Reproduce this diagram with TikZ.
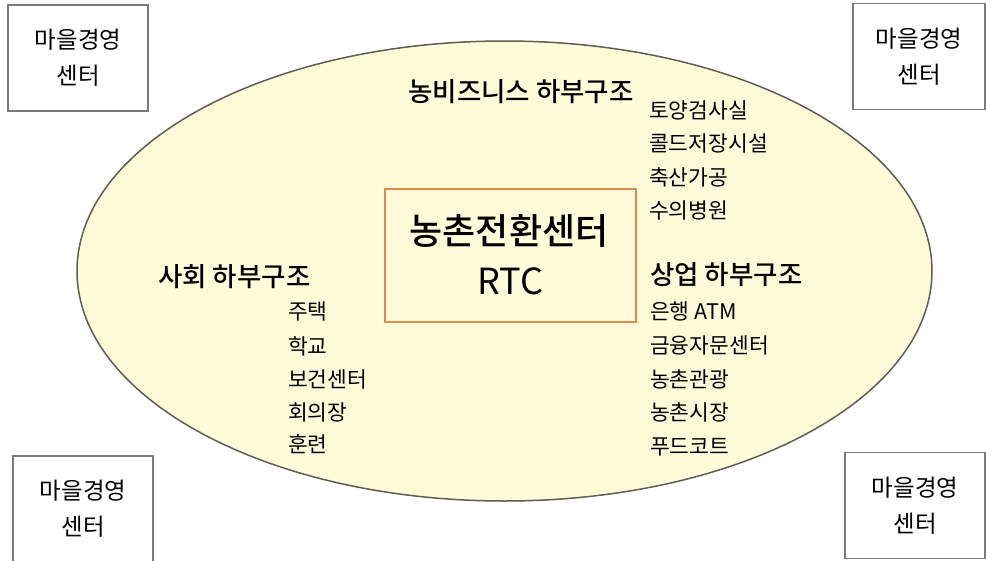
\documentclass[tikz,border=0pt]{standalone}
\usepackage{fontspec}
\usetikzlibrary{shapes.geometric}
\setmainfont{Noto Sans CJK KR}[BoldFont={Noto Sans CJK KR Medium}]
\definecolor{ellfill}{HTML}{FEFCD8}
\definecolor{ellline}{HTML}{5E5E56}
\definecolor{boxline}{HTML}{7A7A7A}
\definecolor{rtcline}{HTML}{E4884C}
\begin{document}
\begin{tikzpicture}[x=1pt,y=-1pt,
  item/.style={inner sep=0pt,text height=17.2pt,text depth=2.2pt,anchor=west,yshift=-3pt,font=\fontsize{21.5}{24}\selectfont},
  hdr/.style={inner sep=0pt,text height=21.2pt,text depth=2.6pt,yshift=-2.5pt,font=\fontsize{26.5}{30}\selectfont\bfseries},
  ttl/.style={inner sep=0pt,text height=28.8pt,text depth=3.6pt,yshift=-2pt,font=\fontsize{36}{40}\selectfont},
  mbox/.style={draw=boxline,line width=1.6pt,fill=white,minimum width=140pt,minimum height=106pt,align=center,inner sep=0pt,font=\fontsize{23.5}{36}\selectfont},
]
\useasboundingbox (0,0) rectangle (986,560);
% main ellipse
\node[draw=ellline,line width=1.5pt,fill=ellfill,ellipse,minimum width=855pt,minimum height=460pt,inner sep=0pt] (ell) at (504.5,271) {};
% corner boxes
\node[mbox] (tl) at (78,58) {마을경영\\센터};
\node[mbox,minimum width=132pt] (tr) at (919,56.5) {마을경영\\센터};
\node[mbox] (bl) at (83,509) {마을경영\\센터};
\node[mbox] (br) at (915,505.5) {마을경영\\센터};
% center box
\node[draw=rtcline,line width=1.6pt,fill=ellfill,minimum width=251pt,minimum height=133pt] (rtc) at (510.5,255.5) {};
\node[ttl,font=\fontsize{36}{40}\selectfont\bfseries] (rtct) at (509,230) {농촌전환센터};
\node[ttl] (rtcn) at (510.5,280) {RTC};
% agribusiness
\node[hdr] (h1) at (521,90) {농비즈니스 하부구조};
\node[item] (b1) at (649,108) {토양검사실};
\node[item] (b2) at (649,141) {콜드저장시설};
\node[item] (b3) at (649,175) {축산가공};
\node[item] (b4) at (649,208) {수의병원};
% commercial
\node[hdr,anchor=west] (h2) at (650,273) {상업 하부구조};
\node[item] (c1) at (650,309) {은행 ATM};
\node[item] (c2) at (650,343) {금융자문센터};
\node[item] (c3) at (650,377) {농촌관광};
\node[item] (c4) at (650,410) {농촌시장};
\node[item] (c5) at (650,444) {푸드코트};
% social
\node[hdr,anchor=west] (h3) at (158,275) {사회 하부구조};
\node[item] (s1) at (288,309) {주택};
\node[item] (s2) at (288,344) {학교};
\node[item] (s3) at (288,377) {보건센터};
\node[item] (s4) at (288,410) {회의장};
\node[item] (s5) at (288,442) {훈련};
\end{tikzpicture}
\end{document}
